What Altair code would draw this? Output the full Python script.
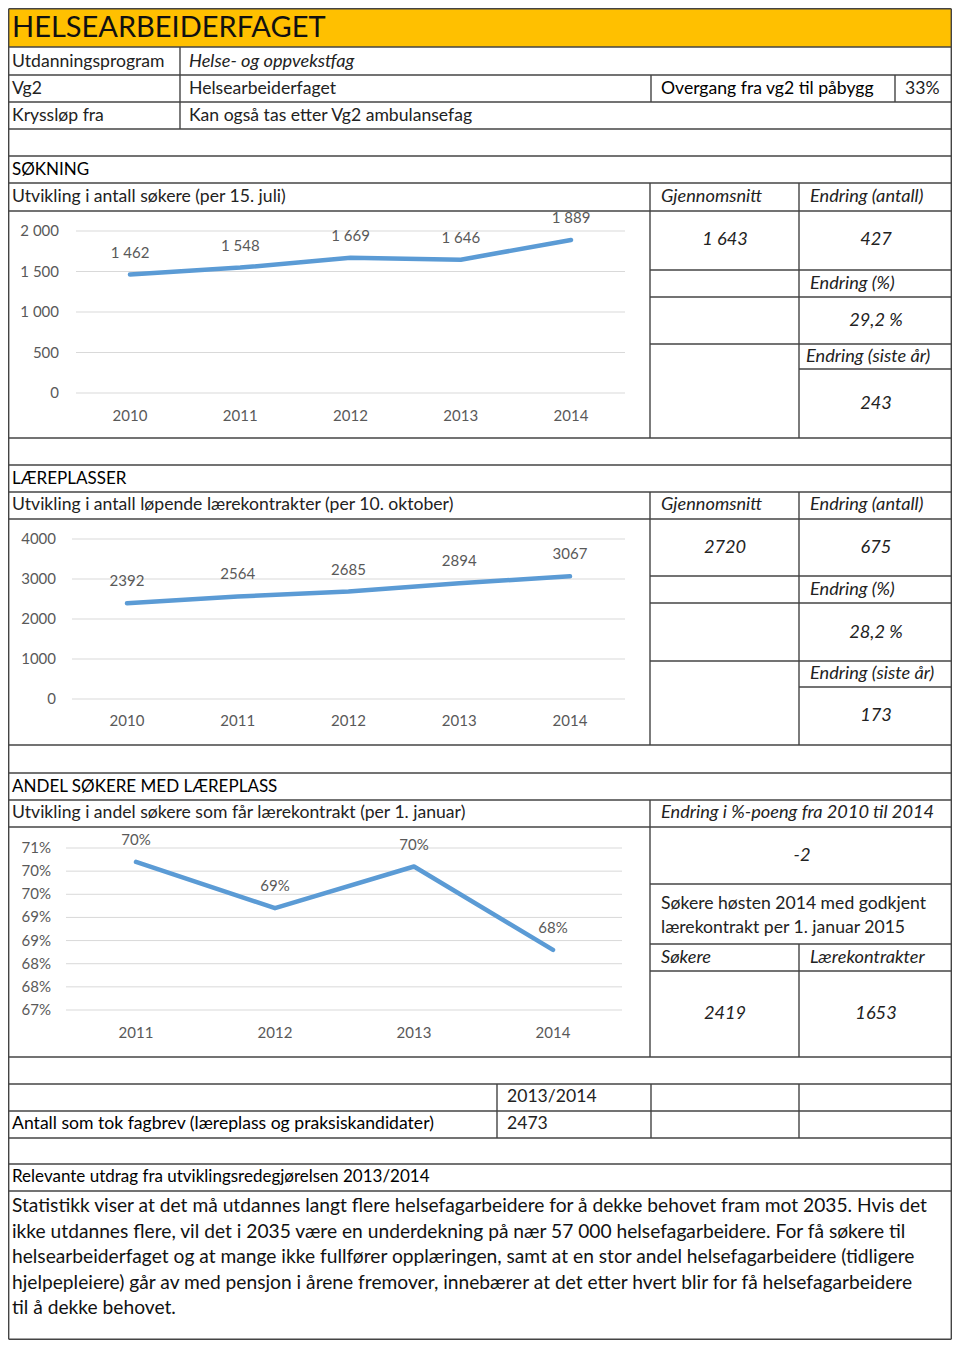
import altair as alt
import pandas as pd

FONT = "Lato"

# ---------------- data ----------------
years1 = [2010, 2011, 2012, 2013, 2014]
sokere = [1462, 1548, 1669, 1646, 1889]
sokere_labels = ["1 462", "1 548", "1 669", "1 646", "1 889"]
ticks1 = [0, 500, 1000, 1500, 2000]
ticks1_labels = ["0", "500", "1 000", "1 500", "2 000"]

years2 = [2010, 2011, 2012, 2013, 2014]
kontrakter = [2392, 2564, 2685, 2894, 3067]
ticks2 = [0, 1000, 2000, 3000, 4000]
ticks2_labels = ["0", "1000", "2000", "3000", "4000"]

years3 = [2011, 2012, 2013, 2014]
andel = [0.702, 0.692, 0.701, 0.683]
ticks3 = [0.67, 0.675, 0.68, 0.685, 0.69, 0.695, 0.70, 0.705]
ticks3_labels = ["67%", "68%", "68%", "69%", "69%", "70%", "70%", "71%"]

paragraph = [
    "Statistikk viser at det må utdannes langt flere helsefagarbeidere for å dekke behovet fram mot 2035. Hvis det",
    "ikke utdannes flere, vil det i 2035 være en underdekning på nær 57 000 helsefagarbeidere. For få søkere til",
    "helsearbeiderfaget og at mange ikke fullfører opplæringen, samt at en stor andel helsefagarbeidere (tidligere",
    "hjelpepleiere) går av med pensjon i årene fremover, innebærer at det etter hvert blir for få helsefagarbeidere",
    "til å dekke behovet.",
]

# ---------------- page layout (page pixel coordinates) ----------------
PX = alt.Scale(domain=[0, 960], range=[-8, 952])
PY = alt.Scale(domain=[0, 1348], range=[-8, 1340])
L, R = 8.7, 951.3
TOP, BOT = 8.7, 1339.3
LINE = "#444444"
TXT = "#222222"
GRAY = "#595959"
BLUE = "#5B9BD5"

hlines = [(L, R, y) for y in [47, 75, 102, 129, 156, 183, 211, 438, 465, 492, 519, 745,
                                773, 800, 827, 1057, 1084, 1111, 1138, 1164, 1191]]
hlines += [(650, R, y) for y in [270, 297, 344, 576, 603, 661, 884, 944, 971]]
hlines += [(799, R, 369), (799, R, 687), (L, R, TOP), (L, R, BOT)]
vlines = [(L, TOP, BOT), (R, TOP, BOT), (180, 47, 129), (651, 75, 102), (895, 75, 102),
          (650, 183, 438), (799, 183, 438), (650, 492, 745), (799, 492, 745),
          (650, 800, 1057), (799, 944, 1057),
          (497, 1084, 1138), (651, 1084, 1138), (799, 1084, 1138)]

hdf = pd.DataFrame(hlines, columns=["x1", "x2", "y"])
vdf = pd.DataFrame(vlines, columns=["x", "y1", "y2"])
header_df = pd.DataFrame([{"x1": L, "x2": R, "y1": TOP, "y2": 47}])

header = alt.Chart(header_df).mark_rect(color="#FFC000").encode(
    x=alt.X("x1:Q", scale=PX, axis=None), x2="x2:Q",
    y=alt.Y("y1:Q", scale=PY, axis=None), y2="y2:Q")
hrules = alt.Chart(hdf).mark_rule(color=LINE, strokeWidth=1.4).encode(
    x=alt.X("x1:Q", scale=PX, axis=None), x2="x2:Q",
    y=alt.Y("y:Q", scale=PY, axis=None))
vrules = alt.Chart(vdf).mark_rule(color=LINE, strokeWidth=1.4).encode(
    x=alt.X("x:Q", scale=PX, axis=None),
    y=alt.Y("y1:Q", scale=PY, axis=None), y2="y2:Q")


def txt(rows, **kw):
    df = pd.DataFrame(rows, columns=["x", "y", "t"])
    opts = dict(font=FONT, baseline="middle", align="left", color=TXT, fontSize=17.6)
    opts.update(kw)
    return alt.Chart(df).mark_text(**opts).encode(
        x=alt.X("x:Q", scale=PX, axis=None),
        y=alt.Y("y:Q", scale=PY, axis=None),
        text="t:N")


title = txt([(12, 28, "HELSEARBEIDERFAGET")], fontSize=29, color="#111111")
regular_left = txt([
    (12, 62, "Utdanningsprogram"), (12, 89, "Vg2"), (189, 89, "Helsearbeiderfaget"),
    (905, 89, "33%"), (12, 116, "Kryssløp fra"), (189, 116, "Kan også tas etter Vg2 ambulansefag"),
    (12, 197, "Utvikling i antall søkere (per 15. juli)"),
    (12, 505, "Utvikling i antall løpende lærekontrakter (per 10. oktober)"),
    (12, 813, "Utvikling i andel søkere som får lærekontrakt (per 1. januar)"),
    (661, 904, "Søkere høsten 2014 med godkjent"), (661, 928, "lærekontrakt per 1. januar 2015"),
    (507, 1097, "2013/2014"), (507, 1124, "2473"),
])
dark_left = txt([
    (661, 89, "Overgang fra vg2 til påbygg"),
    (12, 1124, "Antall som tok fagbrev (læreplass og praksiskandidater)"),
], color="#000000")
headings = txt([
    (12, 170, "SØKNING"), (12, 479, "LÆREPLASSER"), (12, 787, "ANDEL SØKERE MED LÆREPLASS"),
    (12, 1177, "Relevante utdrag fra utviklingsredegjørelsen 2013/2014"),
], color="#000000", fontSize=17)
italic_left = txt([
    (189, 62, "Helse- og oppvekstfag"),
    (661, 197, "Gjennomsnitt"), (810, 197, "Endring (antall)"), (810, 284, "Endring (%)"),
    (806, 357, "Endring (siste år)"),
    (661, 505, "Gjennomsnitt"), (810, 505, "Endring (antall)"), (810, 590, "Endring (%)"),
    (810, 674, "Endring (siste år)"),
    (661, 813, "Endring i %-poeng fra 2010 til 2014"),
    (661, 958, "Søkere"), (810, 958, "Lærekontrakter"),
], fontStyle="italic", fontSize=18.2)
italic_center = txt([
    (725, 240, "1 643"), (876, 240, "427"), (876, 321, "29,2 %"), (876, 404, "243"),
    (725, 548, "2720"), (876, 548, "675"), (876, 633, "28,2 %"), (876, 716, "173"),
    (802, 856, "-2"), (725, 1014, "2419"), (876, 1014, "1653"),
], fontStyle="italic", align="center", fontSize=18.2)
para = txt([(12, 1206 + i * 25.5, s) for i, s in enumerate(paragraph)], fontSize=19.2, color="#111111")

layout = alt.layer(header, hrules, vrules, title, regular_left, dark_left, headings,
                   italic_left, italic_center, para)


# ---------------- line charts ----------------
def line_chart(years, values, labels, ticks, tick_labels, xrange, yrange, ydomain,
               grid_x, tick_x, year_y, value_format=None):
    xs = alt.Scale(domain=[years[0], years[-1]], range=[xrange[0] - 8, xrange[1] - 8])
    ys = alt.Scale(domain=ydomain, range=[yrange[0] - 8, yrange[1] - 8])
    d = pd.DataFrame({"year": years, "value": values})
    if labels is not None:
        d["label"] = labels
    t = pd.DataFrame({"v": ticks, "lab": tick_labels})
    grid = alt.Chart(t).mark_rule(color="#D9D9D9", strokeWidth=1).encode(
        y=alt.Y("v:Q", scale=ys, axis=None),
        x=alt.value(grid_x[0] - 8), x2=alt.value(grid_x[1] - 8))
    tick_text = alt.Chart(t).mark_text(font=FONT, fontSize=15, color=GRAY, align="right",
                                       baseline="middle").encode(
        y=alt.Y("v:Q", scale=ys, axis=None), x=alt.value(tick_x - 8), text="lab:N")
    year_text = alt.Chart(d).mark_text(font=FONT, fontSize=15, color=GRAY, align="center",
                                       baseline="middle").encode(
        x=alt.X("year:Q", scale=xs, axis=None), y=alt.value(year_y - 8),
        text=alt.Text("year:Q", format="d"))
    line = alt.Chart(d).mark_line(color=BLUE, strokeWidth=4.5, strokeCap="round",
                                  strokeJoin="round").encode(
        x=alt.X("year:Q", scale=xs, axis=None), y=alt.Y("value:Q", scale=ys, axis=None))
    if labels is not None:
        text_enc = alt.Text("label:N")
    else:
        text_enc = alt.Text("value:Q", format=value_format)
    val_text = alt.Chart(d).mark_text(font=FONT, fontSize=15, color=GRAY, align="center",
                                      baseline="middle", dy=-22).encode(
        x=alt.X("year:Q", scale=xs, axis=None), y=alt.Y("value:Q", scale=ys, axis=None),
        text=text_enc)
    return alt.layer(grid, tick_text, year_text, line, val_text)


c1 = line_chart(years1, sokere, sokere_labels, ticks1, ticks1_labels,
                xrange=(130, 571), yrange=(393, 231), ydomain=[0, 2000],
                grid_x=(76, 625), tick_x=59, year_y=416)
c2 = line_chart(years2, kontrakter, None, ticks2, ticks2_labels,
                xrange=(127, 570), yrange=(699, 539), ydomain=[0, 4000],
                grid_x=(72, 625), tick_x=56, year_y=721, value_format="d")
c3 = line_chart(years3, andel, None, ticks3, ticks3_labels,
                xrange=(136, 553), yrange=(1010, 848), ydomain=[0.67, 0.705],
                grid_x=(66, 622), tick_x=51, year_y=1033, value_format=".0%")

chart = alt.layer(layout, c1, c2, c3).resolve_scale(
    x="independent", y="independent"
).properties(
    width=944, height=1332, padding=0,
    autosize=alt.AutoSizeParams(type="none"),
    background="white",
).configure_view(stroke=None)

chart.save("out.html", embed_options={"renderer": "svg", "actions": False})
